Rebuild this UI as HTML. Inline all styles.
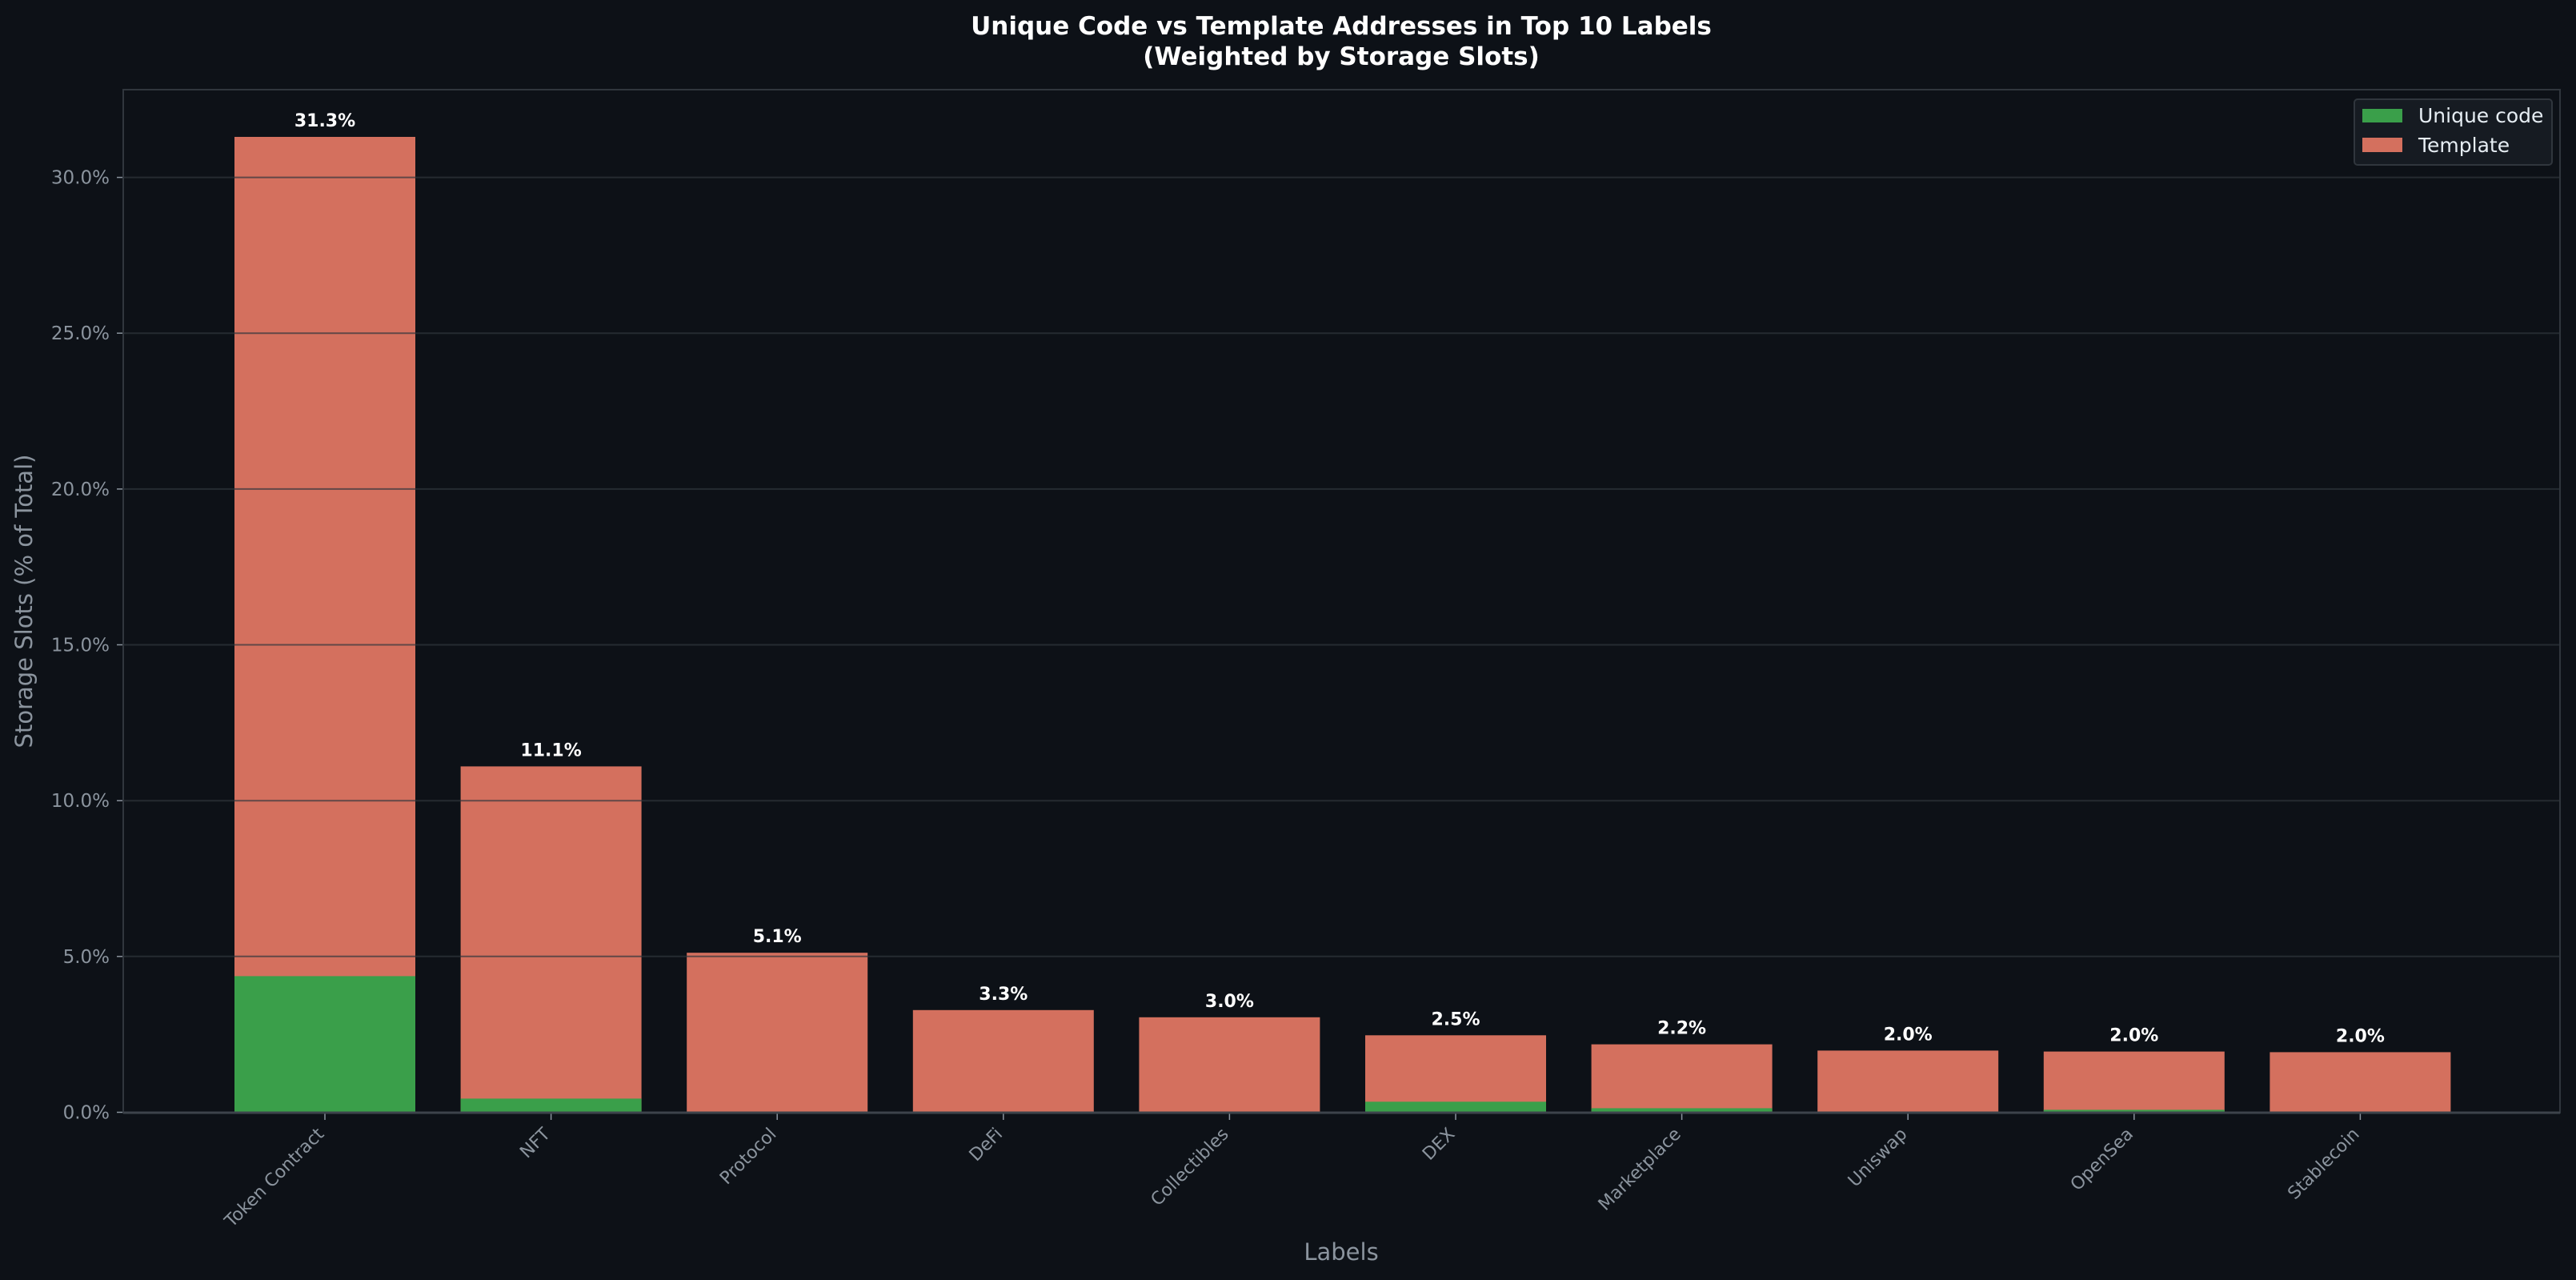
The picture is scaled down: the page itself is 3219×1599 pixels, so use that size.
<!DOCTYPE html>
<html><head><meta charset="utf-8"><style>
html,body{margin:0;padding:0;background:#0d1117;}
svg{display:block;font-family:"DejaVu Sans","Liberation Sans",sans-serif;}
</style></head><body>
<svg width="3219" height="1599" viewBox="0 0 3219 1599" xmlns="http://www.w3.org/2000/svg">
<rect width="3219" height="1599" fill="#0d1117"/>
<text x="1676" y="43" fill="#ffffff" font-size="31" font-weight="bold" text-anchor="middle">Unique Code vs Template Addresses in Top 10 Labels</text>
<text x="1676" y="81" fill="#ffffff" font-size="31" font-weight="bold" text-anchor="middle">(Weighted by Storage Slots)</text>
<g fill="#d4705e">
<rect x="293" y="171" width="226" height="1218.5"/>
<rect x="575.6" y="957.4" width="226" height="432.1"/>
<rect x="858.2" y="1190.2" width="226" height="199.3"/>
<rect x="1140.8" y="1261.8" width="226" height="127.7"/>
<rect x="1423.4" y="1270.8" width="226" height="118.7"/>
<rect x="1706" y="1293.3" width="226" height="96.2"/>
<rect x="1988.6" y="1304.6" width="226" height="84.9"/>
<rect x="2271.2" y="1312.4" width="226" height="77.1"/>
<rect x="2553.8" y="1313.6" width="226" height="75.9"/>
<rect x="2836.4" y="1314.4" width="226" height="75.1"/>
</g>
<g fill="#3a9f4a">
<rect x="293" y="1219.4" width="226" height="170.1"/>
<rect x="575.6" y="1372.4" width="226" height="17.1"/>
<rect x="1706" y="1376.3" width="226" height="13.2"/>
<rect x="1988.6" y="1384.4" width="226" height="5.1"/>
<rect x="2553.8" y="1386.4" width="226" height="3.1"/>
</g>
<g stroke="#30363d" stroke-opacity="0.7" stroke-width="2">
<line x1="154" y1="1194.8" x2="3199" y2="1194.8"/>
<line x1="154" y1="1000.2" x2="3199" y2="1000.2"/>
<line x1="154" y1="805.5" x2="3199" y2="805.5"/>
<line x1="154" y1="610.9" x2="3199" y2="610.9"/>
<line x1="154" y1="416.2" x2="3199" y2="416.2"/>
<line x1="154" y1="221.6" x2="3199" y2="221.6"/>
</g>
<g stroke="#8b949e" stroke-width="1.5">
<line x1="146" y1="1389.5" x2="154" y2="1389.5"/>
<line x1="146" y1="1194.8" x2="154" y2="1194.8"/>
<line x1="146" y1="1000.2" x2="154" y2="1000.2"/>
<line x1="146" y1="805.5" x2="154" y2="805.5"/>
<line x1="146" y1="610.9" x2="154" y2="610.9"/>
<line x1="146" y1="416.2" x2="154" y2="416.2"/>
<line x1="146" y1="221.6" x2="154" y2="221.6"/>
<line x1="406" y1="1391" x2="406" y2="1399"/>
<line x1="688.6" y1="1391" x2="688.6" y2="1399"/>
<line x1="971.2" y1="1391" x2="971.2" y2="1399"/>
<line x1="1253.8" y1="1391" x2="1253.8" y2="1399"/>
<line x1="1536.4" y1="1391" x2="1536.4" y2="1399"/>
<line x1="1819" y1="1391" x2="1819" y2="1399"/>
<line x1="2101.6" y1="1391" x2="2101.6" y2="1399"/>
<line x1="2384.2" y1="1391" x2="2384.2" y2="1399"/>
<line x1="2666.8" y1="1391" x2="2666.8" y2="1399"/>
<line x1="2949.4" y1="1391" x2="2949.4" y2="1399"/>
</g>
<g fill="#8b949e" font-size="23" text-anchor="end">
<text x="137" y="1397.5">0.0%</text>
<text x="137" y="1202.8">5.0%</text>
<text x="137" y="1008.2">10.0%</text>
<text x="137" y="813.5">15.0%</text>
<text x="137" y="618.9">20.0%</text>
<text x="137" y="424.2">25.0%</text>
<text x="137" y="229.6">30.0%</text>
</g>
<g fill="#8b949e" font-size="22" text-anchor="end">
<text x="406" y="1418" transform="rotate(-45 406 1418)">Token Contract</text>
<text x="688.6" y="1418" transform="rotate(-45 688.6 1418)">NFT</text>
<text x="971.2" y="1418" transform="rotate(-45 971.2 1418)">Protocol</text>
<text x="1253.8" y="1418" transform="rotate(-45 1253.8 1418)">DeFi</text>
<text x="1536.4" y="1418" transform="rotate(-45 1536.4 1418)">Collectibles</text>
<text x="1819" y="1418" transform="rotate(-45 1819 1418)">DEX</text>
<text x="2101.6" y="1418" transform="rotate(-45 2101.6 1418)">Marketplace</text>
<text x="2384.2" y="1418" transform="rotate(-45 2384.2 1418)">Uniswap</text>
<text x="2666.8" y="1418" transform="rotate(-45 2666.8 1418)">OpenSea</text>
<text x="2949.4" y="1418" transform="rotate(-45 2949.4 1418)">Stablecoin</text>
</g>
<g fill="#ffffff" font-size="22" font-weight="bold" text-anchor="middle">
<text x="406" y="158">31.3%</text>
<text x="688.6" y="944.4">11.1%</text>
<text x="971.2" y="1177.2">5.1%</text>
<text x="1253.8" y="1248.8">3.3%</text>
<text x="1536.4" y="1257.8">3.0%</text>
<text x="1819" y="1280.3">2.5%</text>
<text x="2101.6" y="1291.6">2.2%</text>
<text x="2384.2" y="1299.4">2.0%</text>
<text x="2666.8" y="1300.6">2.0%</text>
<text x="2949.4" y="1301.4">2.0%</text>
</g>
<rect x="154" y="112" width="3045" height="1278" fill="none" stroke="#30363d" stroke-width="2"/>
<line x1="154" y1="1390" x2="3199" y2="1390" stroke="#3d434b" stroke-width="3"/>
<text x="1676" y="1574" fill="#8b949e" font-size="29" text-anchor="middle">Labels</text>
<text x="0" y="0" fill="#8b949e" font-size="29" text-anchor="middle" transform="translate(40 751) rotate(-90)">Storage Slots (% of Total)</text>
<rect x="2942" y="124" width="247" height="82" rx="4" fill="#161b22" stroke="#30363d" stroke-width="2"/>
<rect x="2952" y="136" width="50" height="17" fill="#3a9f4a"/>
<rect x="2952" y="172" width="50" height="18" fill="#d4705e"/>
<text x="3022" y="153" fill="#e6edf3" font-size="25">Unique code</text>
<text x="3022" y="190" fill="#e6edf3" font-size="25">Template</text>
</svg>
</body></html>
